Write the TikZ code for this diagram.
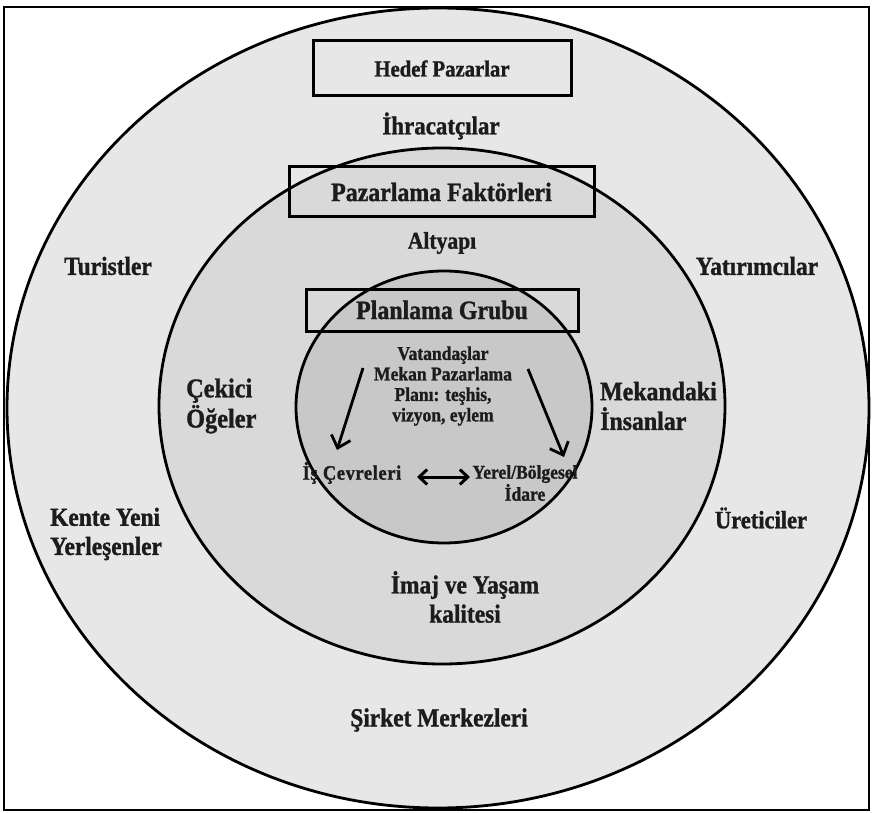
\documentclass[tikz,border=0pt]{standalone}
\usepackage{fontspec}
\setmainfont{Liberation Serif}[FakeStretch=0.9, BoldFeatures={FakeBold=1.2}]
\usetikzlibrary{arrows.meta}
\definecolor{ringouter}{HTML}{E7E7E7}
\definecolor{ringmid}{HTML}{D9D9D9}
\definecolor{ringinner}{HTML}{C8C8C8}
\definecolor{ink}{HTML}{1C1C1C}
\newcommand{\fs}[1]{\bfseries\fontsize{#1}{1.12\dimexpr#1pt\relax}\selectfont}
\begin{document}
\begin{tikzpicture}[x=1pt,y=-1pt,
  lbl/.style={text=ink, inner sep=0pt, align=center, font=\fs{26}},
  lbll/.style={lbl, align=left},
  small/.style={text=ink, inner sep=0pt, align=center,
    font=\bfseries\fontsize{19.5}{20.5}\selectfont},
  tagbox/.style={draw=black, line width=3pt, inner sep=0pt, text=ink},
  ring/.style={draw=black, line width=2.8pt},
  flow/.style={line width=2.8pt, -{Straight Barb[length=11pt,width=20pt]}},
  both/.style={line width=3pt, {Straight Barb[length=8pt,width=15pt]}-{Straight Barb[length=8pt,width=15pt]}}]
\useasboundingbox (0,0) rectangle (873,813);
\fill[white] (0,0) rectangle (873,813);
\draw[line width=2pt] (4,7) rectangle (869,810);

% three concentric rings
\draw[ring, fill=ringouter] (438,408) ellipse [x radius=431, y radius=400];
\draw[ring, fill=ringmid]   (442,406) ellipse [x radius=283, y radius=258];
\draw[ring, fill=ringinner] (444,407) ellipse [x radius=148, y radius=136];

% framed headings
\node[tagbox, minimum width=258pt, minimum height=55pt, font=\fs{23}]
  (hedef) at (442,68.5) {Hedef Pazarlar};
\node[tagbox, minimum width=305pt, minimum height=50pt, font=\fs{26.5}]
  (faktor) at (441.5,192) {Pazarlama Faktörleri};
\node[tagbox, minimum width=272pt, minimum height=42pt, font=\fs{26.5}]
  (grup) at (442,310) {Planlama Grubu};

% outer ring
\node[lbl, font=\fs{25.5}] (ihr) at (441,126) {İhracatçılar};
\node[lbl] (tur) at (108,266) {Turistler};
\node[lbl] (yat) at (757,266) {Yatırımcılar};
\node[lbll, anchor=west] (kente) at (50,534) {Kente Yeni\\Yerleşenler};
\node[lbl, font=\fs{25}] (uret) at (761,518) {Üreticiler};
\node[lbl] (sirket) at (439,720) {Şirket Merkezleri};

% middle ring
\node[lbl, font=\fs{24}] (alt) at (442,243) {Altyapı};
\node[lbll, anchor=west, font=\fs{27}] (cekici) at (186,406) {Çekici\\Öğeler};
\node[lbll, anchor=west, font=\fs{26.5}] (mekan) at (600,406) {Mekandaki\\İnsanlar};
\node[lbl, font=\fs{26}] (imaj) at (465,597) {İmaj ve Yaşam\\kalitesi};

% inner circle
\node[small] (plan) at (443,386) {Vatandaşlar\\Mekan Pazarlama\\Planı: teşhis,\\vizyon, eylem};
\node[small, font=\bfseries\fontsize{20.5}{20.5}\selectfont\addfontfeature{LetterSpace=3}]
  (is) at (352,473) {İş Çevreleri};
\node[small] (idare) at (525,483) {Yerel/Bölgesel\\İdare};

% connectors
\coordinate (pl) at (363,368);
\coordinate (pr) at (528,369);
\coordinate (isTop) at (337,450);
\coordinate (idTop) at (564,457);
\coordinate (linkL) at (417,477);
\coordinate (linkR) at (470,477);
\draw[flow] (pl) -- (isTop);
\draw[flow] (pr) -- (idTop);
\draw[both] (linkL) -- (linkR);
\end{tikzpicture}
\end{document}
